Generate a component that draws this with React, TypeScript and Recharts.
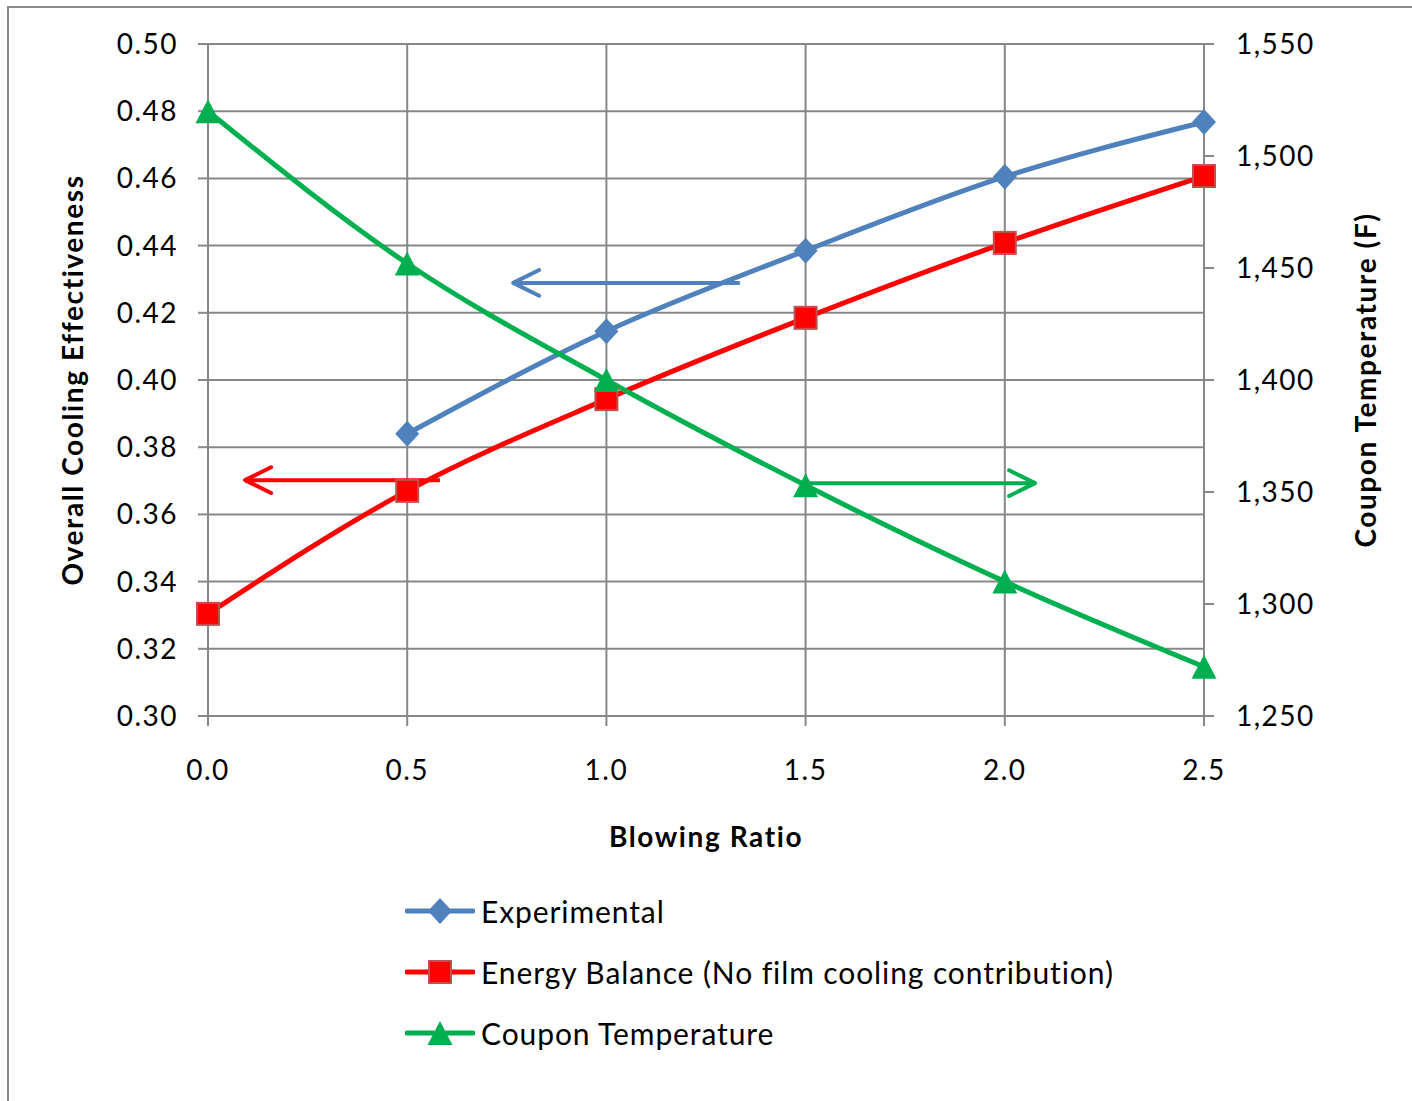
import React from "react";
import {
  LineChart,
  Line,
  XAxis,
  YAxis,
  CartesianGrid,
  Legend,
  ReferenceLine,
} from "recharts";

// values
const blowingRatio = [0, 0.5, 1.0, 1.5, 2.0, 2.5];
const experimental = [null, 0.384, 0.4145, 0.4385, 0.4605, 0.4768];
const energyBalance = [0.3304, 0.367, 0.3943, 0.4185, 0.4408, 0.4607];
const couponTemperature = [1520, 1452, 1400, 1353, 1310, 1272];

const xTicks = [0, 0.5, 1.0, 1.5, 2.0, 2.5];
const leftTicks = [0.3, 0.32, 0.34, 0.36, 0.38, 0.4, 0.42, 0.44, 0.46, 0.48, 0.5];
const rightTicks = [1250, 1300, 1350, 1400, 1450, 1500, 1550];

const BLUE = "#4F81BD";
const RED = "#FF0000";
const GREEN = "#00B050";
const GRID = "#878787";

// annotation arrows (tail -> head), in left-axis units
const arrowTails = [
  { x: 1.335, y: 0.4289 },
  { x: 0.582, y: 0.3702 },
  { x: 1.499, y: 0.3693 },
];
const arrowHeads = [
  { x: 0.766, y: 0.4289 },
  { x: 0.093, y: 0.3702 },
  { x: 2.076, y: 0.3693 },
];
const arrowColors = [BLUE, RED, GREEN];

const data = blowingRatio.map((x, i) => ({
  x,
  experimental: experimental[i],
  energy: energyBalance[i],
  coupon: couponTemperature[i],
}));

const diamond = (cx: number, cy: number, key?: string) => (
  <polygon
    key={key}
    points={`${cx},${cy - 13} ${cx + 12},${cy} ${cx},${cy + 13} ${cx - 12},${cy}`}
    fill={BLUE}
  />
);
const square = (cx: number, cy: number, key?: string) => (
  <rect key={key} x={cx - 11} y={cy - 11} width={22} height={22} fill={RED} stroke="#C0504D" strokeWidth={2} />
);
const triangle = (cx: number, cy: number, key?: string) => (
  <polygon
    key={key}
    points={`${cx},${cy - 12} ${cx + 12.5},${cy + 12} ${cx - 12.5},${cy + 12}`}
    fill={GREEN}
  />
);

const makeDot = (fn: typeof diamond, name: string) => (p: any) => {
  const k = `${name}-${p.index}`;
  if (p.cx == null || p.cy == null || p.value == null) return <g key={k} />;
  return fn(p.cx, p.cy, k);
};

const series = [
  { name: "Experimental", color: BLUE, marker: diamond },
  { name: "Energy Balance (No film cooling contribution)", color: RED, marker: square },
  { name: "Coupon Temperature", color: GREEN, marker: triangle },
];

const Arrow = (color: string) => (p: any) => {
  const { x1, y1, x2, y2 } = p;
  const ang = Math.atan2(y2 - y1, x2 - x1);
  const len = 29;
  const spread = 0.46;
  const ax = x2 - len * Math.cos(ang - spread);
  const ay = y2 - len * Math.sin(ang - spread);
  const bx = x2 - len * Math.cos(ang + spread);
  const by = y2 - len * Math.sin(ang + spread);
  return (
    <g>
      <line x1={x1} y1={y1} x2={x2} y2={y2} stroke={color} strokeWidth={4} />
      <polyline
        points={`${ax},${ay} ${x2},${y2} ${bx},${by}`}
        fill="none"
        stroke={color}
        strokeWidth={4}
        strokeLinecap="round"
        strokeLinejoin="round"
      />
    </g>
  );
};

const renderLegend = () => (
  <div style={{ fontFamily: "Lato, sans-serif", fontSize: 30, color: "#000" }}>
    {series.map((s) => (
      <div key={s.name} style={{ display: "flex", alignItems: "center", height: 61 }}>
        <svg width={70} height={30} style={{ marginRight: 6 }}>
          <line x1={2} y1={15} x2={68} y2={15} stroke={s.color} strokeWidth={5} strokeLinecap="round" />
          {s.marker(35, 15)}
        </svg>
        <span style={{ letterSpacing: 0.9 }}>{s.name}</span>
      </div>
    ))}
  </div>
);

const tickStyle = { fill: "#000", fontSize: 28, letterSpacing: 1.5 };
const titleStyle = { fontWeight: 700, fontSize: 28, fill: "#000", letterSpacing: 1.6 };

export default function App() {
  return (
    <div
      style={{
        position: "absolute",
        left: 7,
        top: 6,
        width: 1405,
        height: 1095,
        boxSizing: "border-box",
        borderTop: "2px solid #8a8a8a",
        borderLeft: "2px solid #8a8a8a",
        background: "#fff",
        overflow: "hidden",
      }}
    >
      <LineChart
        width={1403}
        height={1093}
        data={data}
        margin={{ top: 36, right: 0, bottom: 235, left: 0 }}
        style={{ fontFamily: "Lato, sans-serif" }}
      >
        <CartesianGrid yAxisId="left" stroke={GRID} strokeWidth={2} horizontalValues={leftTicks} verticalValues={xTicks} />
        <XAxis
          dataKey="x"
          type="number"
          domain={[0, 2.5]}
          ticks={xTicks}
          interval={0}
          tickFormatter={(v: number) => v.toFixed(1)}
          tick={tickStyle}
          tickSize={10}
          tickMargin={34}
          height={150}
          axisLine={{ stroke: GRID, strokeWidth: 2 }}
          tickLine={{ stroke: GRID, strokeWidth: 2 }}
          label={{
            value: "Blowing Ratio",
            position: "insideTop",
            offset: 111,
            style: titleStyle,
          }}
        />
        <YAxis
          yAxisId="left"
          domain={[0.3, 0.5]}
          ticks={leftTicks}
          interval={0}
          tickFormatter={(v: number) => v.toFixed(2)}
          tick={tickStyle}
          tickSize={10}
          tickMargin={20}
          width={199}
          axisLine={{ stroke: GRID, strokeWidth: 2 }}
          tickLine={{ stroke: GRID, strokeWidth: 2 }}
          label={{
            value: "Overall Cooling Effectiveness",
            angle: -90,
            position: "center",
            dx: -35,
            style: titleStyle,
          }}
        />
        <YAxis
          yAxisId="right"
          orientation="right"
          domain={[1250, 1550]}
          ticks={rightTicks}
          interval={0}
          tickFormatter={(v: number) => v.toLocaleString("en-US")}
          tick={tickStyle}
          tickSize={10}
          tickMargin={22}
          width={208}
          axisLine={{ stroke: GRID, strokeWidth: 2 }}
          tickLine={{ stroke: GRID, strokeWidth: 2 }}
          label={{
            value: "Coupon Temperature (F)",
            angle: -90,
            position: "center",
            dx: 58,
            style: titleStyle,
          }}
        />
        {arrowTails.map((t, i) => (
          <ReferenceLine
            key={`arrow-${i}`}
            yAxisId="left"
            segment={[t, arrowHeads[i]]}
            ifOverflow="visible"
            shape={Arrow(arrowColors[i])}
          />
        ))}
        <Line
          yAxisId="left"
          type="monotone"
          dataKey="experimental"
          name={series[0].name}
          stroke={BLUE}
          strokeWidth={5}
          dot={makeDot(diamond, "exp")}
          activeDot={false}
          isAnimationActive={false}
        />
        <Line
          yAxisId="left"
          type="monotone"
          dataKey="energy"
          name={series[1].name}
          stroke={RED}
          strokeWidth={5}
          dot={makeDot(square, "eb")}
          activeDot={false}
          isAnimationActive={false}
        />
        <Line
          yAxisId="right"
          type="monotone"
          dataKey="coupon"
          name={series[2].name}
          stroke={GREEN}
          strokeWidth={5}
          dot={makeDot(triangle, "ct")}
          activeDot={false}
          isAnimationActive={false}
        />
        <Legend
          layout="vertical"
          align="center"
          verticalAlign="middle"
          content={renderLegend}
          wrapperStyle={{ left: 396, top: 872, width: 800 }}
        />
      </LineChart>
    </div>
  );
}
